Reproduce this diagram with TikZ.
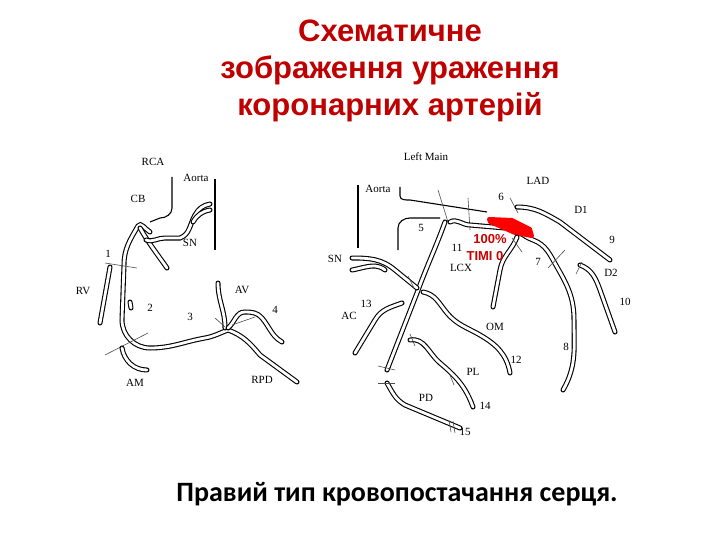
\documentclass[tikz,border=0pt]{standalone}
\usepackage{fontspec}
\setmainfont{Liberation Serif}
\newfontfamily\arialf{Liberation Sans}
\newfontfamily\carl{Carlito}
\begin{document}
\begin{tikzpicture}[x=1pt,y=-1pt,
  ves/.style={draw=black,double=white,double distance=2.8pt,line width=1.1pt,line cap=round},
  ln/.style={draw=black,line width=1.1pt},
  tk/.style={draw=black!70,line width=0.6pt},
  lb/.style={font=\fontsize{11}{12}\selectfont},
  ttl/.style={font=\arialf\bfseries\fontsize{31}{37}\selectfont,text=red!75!black,align=center}]
\useasboundingbox (0,0) rectangle (720,540);
\node[ttl] (title) at (390,71) {Схематичне\\зображення ураження\\коронарних артерій};
\node[font=\carl\bfseries\fontsize{28}{30}\selectfont] (cap) at (397,494) {Правий тип кровопостачання серця.};
% ---- right coronary
\node[lb] (rca) at (153,162) {RCA};
\node[lb] (aoL) at (196,178) {Aorta};
\node[lb] (cb) at (138,199) {CB};
\node[lb] (snL) at (190,243) {SN};
\node[lb] (n1) at (108,254) {1};
\node[lb] (rv) at (83,291) {RV};
\node[lb] (n2) at (150,308) {2};
\node[lb] (n3) at (190,317) {3};
\node[lb] (av) at (242,290) {AV};
\node[lb] (n4) at (275,310) {4};
\node[lb] (am) at (135,383) {AM};
\node[lb] (rpd) at (262,380) {RPD};
\draw[ln] (215,179) -- (215,250);
\draw[ln] (172,177) -- (172,208) to[out=-90,in=0] (160,218) -- (150,222);
\draw[ves] (150,232) to[out=150,in=60] (138,226) to[out=-120,in=90] (124,265) -- (122,320) to[out=-90,in=180] (150,348) to[out=0,in=190] (205,338) to[out=10,in=200] (228,330) to[out=-20,in=130] (260,355) -- (297,382);
\draw[ves] (140,228) to[out=-60,in=125] (167,268);
\draw[ves] (146,240) to[out=-20,in=180] (165,238) -- (180,238) to[out=20,in=-120] (195,215) to[out=60,in=190] (210,204);
\draw[ves] (193,222) to[out=60,in=190] (210,210);
\draw[ves] (110,267) to[out=-100,in=80] (100,323);
\draw[tk] (105,263) -- (137,268);
\draw[ves] (130,302) -- (131,308);
\draw[ves] (218,283) to[out=-90,in=90] (225,328);
\draw[tk] (215,318) -- (225,327);
\draw[ves] (228,328) to[out=40,in=180] (245,312) to[out=0,in=130] (262,318) to[out=-50,in=150] (282,342);
\draw[tk] (232,325) -- (255,317);
\draw[tk] (105,355) -- (148,333);
\draw[ves] (122,348) to[out=-80,in=180] (147,370);
% ---- left coronary
\node[lb] (lm) at (426,157) {Left Main};
\node[lb] (lad) at (538,181) {LAD};
\node[lb] (aoR) at (378,189) {Aorta};
\node[lb] (n5) at (421,228) {5};
\node[lb] (n6) at (501,197) {6};
\node[lb] (d1) at (581,210) {D1};
\node[lb] (n9) at (612,240) {9};
\node[lb] (d2) at (611,273) {D2};
\node[lb] (n10) at (625,302) {10};
\node[lb] (n7) at (538,262) {7};
\node[lb] (n8) at (566,347) {8};
\node[lb] (n11) at (457,248) {11};
\node[lb] (lcx) at (461,268) {LCX};
\node[lb] (snR) at (335,259) {SN};
\node[lb] (ac) at (349,316) {AC};
\node[lb] (n13) at (366,304) {13};
\node[lb] (om) at (495,327) {OM};
\node[lb] (n12) at (516,360) {12};
\node[lb] (pl) at (473,372) {PL};
\node[lb] (n14) at (485,406) {14};
\node[lb] (pd) at (426,398) {PD};
\node[lb] (n15) at (465,432) {15};
\draw[ln] (358,185) -- (358,248);
\draw[ln] (400,187) -- (400,196) to[out=-90,in=180] (410,200) -- (487,212);
\draw[ln] (398,250) -- (398,228) to[out=90,in=180] (410,218) -- (440,218);
\draw[tk] (438,190) -- (448,222);
\draw[tk] (468,198) -- (470,230);
\draw[tk] (510,198) -- (518,213);
\draw[ves] (445,222) to[out=-110,in=70] (417,293) -- (387,370);
\draw[tk] (378,366) -- (395,370);
\draw[ves] (450,222) to[out=30,in=180] (470,225) -- (505,228) to[out=0,in=160] (533,240) to[out=-20,in=120] (557,267) to[out=-60,in=90] (574,320) to[out=-90,in=60] (563,390);
\draw[tk] (548,268) -- (565,250);
\draw[fill=red,draw=red,line width=4pt,line join=round] (489,219) -- (512,220) -- (530,229) -- (532,236) -- (515,233) -- (490,222) -- cycle;
\draw[ves] (517,207) to[out=0,in=150] (560,222) -- (610,260);
\draw[ves] (580,265) to[out=-20,in=110] (600,290) -- (615,332);
\draw[tk] (576,274) -- (582,262);
\draw[ves] (517,237) to[out=-110,in=80] (500,270) -- (493,307);
\draw[tk] (512,238) -- (522,252);
\draw[ves] (423,292) to[out=-10,in=130] (447,313) to[out=-50,in=150] (480,335) to[out=-30,in=100] (510,373);
\draw[ves] (352,258) to[out=0,in=140] (395,270) -- (417,288);
\draw[ves] (352,270) to[out=10,in=180] (375,266) to[out=-10,in=140] (385,270);
\draw[tk] (408,276) -- (414,288);
\draw[ves] (402,303) to[out=-160,in=60] (375,320) -- (355,353);
\draw[ves] (410,340) to[out=10,in=140] (440,363) to[out=-40,in=110] (473,407);
\draw[tk] (410,334) -- (415,346);
\draw[tk] (450,375) -- (454,385);
\draw[ves] (387,383) to[out=-60,in=150] (405,405) -- (460,428);
\draw[tk] (378,383) -- (395,383);
\draw[tk] (449,420) -- (451,432);
\draw[tk] (453,421) -- (455,433);
\node[font=\arialf\bfseries\fontsize{13}{14}\selectfont,text=red!80!black] (p100) at (490,239) {100\%};
\node[font=\arialf\bfseries\fontsize{13}{14}\selectfont,text=red!80!black] (timi) at (485,256) {TIMI 0};
\end{tikzpicture}
\end{document}
